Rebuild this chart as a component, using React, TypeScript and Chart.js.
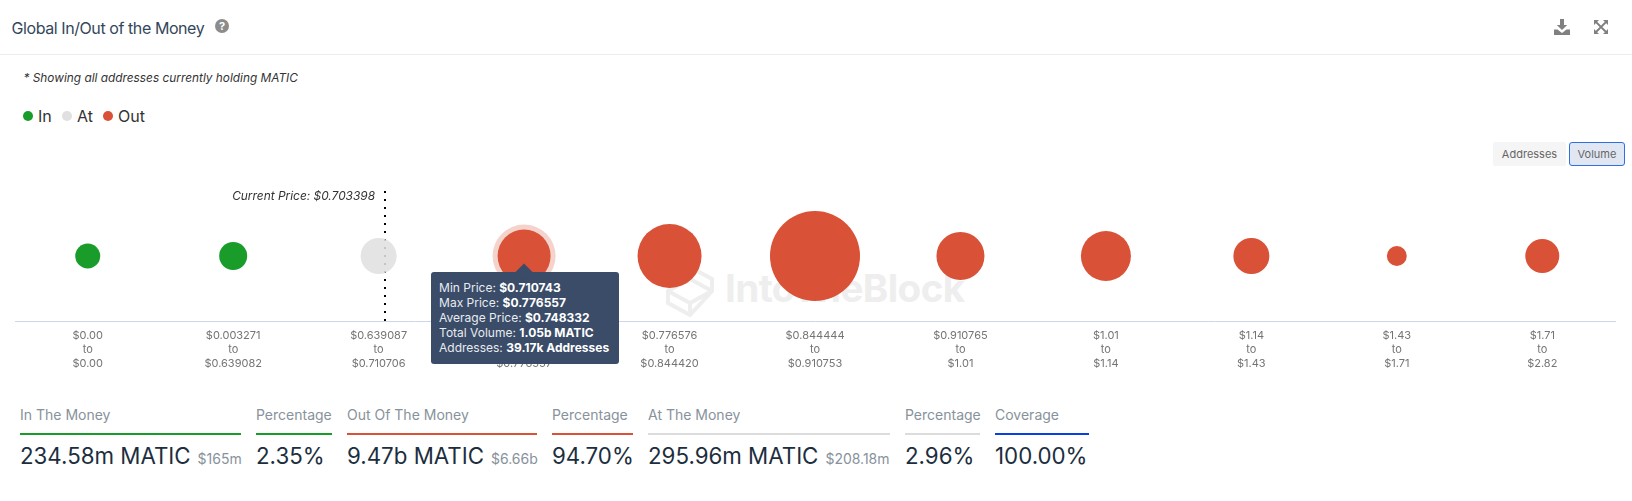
import React, { useEffect, useRef } from "react";
import { Chart, registerables } from "chart.js";

Chart.register(...registerables);

const priceFrom = ["$0.00", "$0.003271", "$0.639087", "$0.710743", "$0.776576", "$0.844444", "$0.910765", "$1.01", "$1.14", "$1.43", "$1.71"];
const priceTo = ["$0.00", "$0.639082", "$0.710706", "$0.776557", "$0.844420", "$0.910753", "$1.01", "$1.14", "$1.43", "$1.71", "$2.82"];
// volumes in millions of MATIC
const inIndex = [0, 1];
const inVolume = [54, 101];
const atIndex = [2];
const atVolume = [295.96];
const outIndex = [3, 4, 5, 6, 7, 8, 9, 10];
const outVolume = [1050, 1785, 4291, 781, 884, 296, 8, 238];
const currentPriceLabel = "Current Price: $0.703398";
const currentPricePosition = 2.047;

const GREEN = "#1a9c2a";
const RED = "#d95137";
const GREY = "rgba(224,224,224,0.88)";
const FONT = "Inter, 'Noto Sans', sans-serif";

const radiusOf = (v: number) => 8.38 + 0.559 * Math.sqrt(v);
const points = (idx: number[], vol: number[]) => idx.map((x, i) => ({ x, y: 0, r: radiusOf(vol[i]) }));

const currentPricePlugin = {
  id: "currentPrice",
  beforeDatasetsDraw(chart: any) {
    const { ctx, chartArea, scales } = chart;
    const x = Math.round(scales.x.getPixelForValue(currentPricePosition));
    ctx.save();
    ctx.strokeStyle = "#000";
    ctx.lineWidth = 2;
    ctx.setLineDash([2, 6]);
    ctx.beginPath();
    ctx.moveTo(x, chartArea.top);
    ctx.lineTo(x, chartArea.bottom);
    ctx.stroke();
    ctx.setLineDash([]);
    ctx.font = `italic 11.9px ${FONT}`;
    ctx.fillStyle = "#333";
    ctx.textAlign = "right";
    ctx.textBaseline = "middle";
    ctx.fillText(currentPriceLabel, x - 10, chartArea.top + 5);
    ctx.restore();
    const el = chart.getDatasetMeta(2).data[0];
    ctx.save();
    ctx.fillStyle = "rgba(217,81,55,0.25)";
    ctx.beginPath();
    ctx.arc(el.x, el.y, el.options.radius + 5, 0, Math.PI * 2);
    ctx.fill();
    ctx.restore();
  },
};

const stats = [
  { label: "In The Money", value: "234.58m MATIC", sub: "$165m", x: 20, w: 221, color: GREEN },
  { label: "Percentage", value: "2.35%", sub: "", x: 256, w: 76, color: GREEN },
  { label: "Out Of The Money", value: "9.47b MATIC", sub: "$6.66b", x: 347, w: 190, color: RED },
  { label: "Percentage", value: "94.70%", sub: "", x: 552, w: 81, color: RED },
  { label: "At The Money", value: "295.96m MATIC", sub: "$208.18m", x: 648, w: 242, color: "#dcdcdc" },
  { label: "Percentage", value: "2.96%", sub: "", x: 905, w: 75, color: "#dcdcdc" },
  { label: "Coverage", value: "100.00%", sub: "", x: 995, w: 94, color: "#0b3fe6" },
];

const tipLines = [
  ["Min Price: ", "$0.710743"],
  ["Max Price: ", "$0.776557"],
  ["Average Price: ", "$0.748332"],
  ["Total Volume: ", "1.05b MATIC"],
  ["Addresses: ", "39.17k Addresses"],
];

const abs = (o: React.CSSProperties): React.CSSProperties => ({ position: "absolute", whiteSpace: "nowrap", ...o });

export default function App() {
  const ref = useRef<HTMLCanvasElement>(null);
  const tipRef = useRef<HTMLDivElement>(null);

  useEffect(() => {
    const chart = new Chart(ref.current!, {
      type: "bubble",
      data: {
        datasets: [
          { label: "In", data: points(inIndex, inVolume), backgroundColor: GREEN, borderWidth: 0 },
          { label: "At", data: points(atIndex, atVolume), backgroundColor: GREY, borderWidth: 0 },
          { label: "Out", data: points(outIndex, outVolume), backgroundColor: RED, borderWidth: 0 },
        ],
      },
      options: {
        animation: false,
        responsive: false,
        events: [],
        layout: { autoPadding: false, padding: { left: 15, right: 17, top: 10, bottom: 0 } },
        plugins: { legend: { display: false }, tooltip: { enabled: false } },
        scales: {
          x: {
            type: "linear",
            min: -0.5,
            max: 10.5,
            afterBuildTicks: (s: any) => {
              s.ticks = priceFrom.map((_, i) => ({ value: i }));
            },
            afterFit: (s: any) => {
              s.height = 59;
            },
            grid: { display: false, drawTicks: false },
            border: { display: true, color: "#ccd6e6", width: 1 },
            ticks: {
              autoSkip: false,
              maxRotation: 0,
              padding: 8,
              color: "#747474",
              font: { family: FONT, size: 11, lineHeight: 14 / 11 },
              callback: (v: any) => [priceFrom[v], "to", priceTo[v]],
            },
          },
          y: { display: false, min: -1, max: 1 },
        },
      },
      plugins: [currentPricePlugin],
    } as any);
    const el: any = chart.getDatasetMeta(2).data[0];
    if (tipRef.current) tipRef.current.style.left = `${el.x - 93}px`;
    return () => chart.destroy();
  }, []);

  return (
    <div style={{ position: "absolute", left: 0, top: 0, width: 1632, height: 501, overflow: "hidden", background: "#fff", fontFamily: FONT }}>
      <div style={abs({ left: 11.5, top: 18, fontSize: 16, lineHeight: "20px", color: "#33475b", letterSpacing: -0.42 })}>Global In/Out of the Money</div>
      <svg style={abs({ left: 215, top: 19 })} width="14" height="14" viewBox="0 0 14 14">
        <circle cx="7" cy="7" r="7" fill="#8c8c8c" />
        <text x="7" y="11" textAnchor="middle" fontSize="11" fontWeight="700" fill="#fff" fontFamily={FONT}>?</text>
      </svg>
      <svg style={abs({ left: 1554, top: 19 })} width="16" height="16" viewBox="0 0 16 16" fill="#808080">
        <path d="M6 0h4v6h3.2L8 11 2.8 6H6z" />
        <path d="M0 10.5h3.5L8 14l4.5-3.5H16V16H0z" />
      </svg>
      <svg style={abs({ left: 1594, top: 20 })} width="14" height="14" viewBox="0 0 14 14" fill="#808080" stroke="#808080">
        <path d="M0 0h5L0 5zM14 0v5L9 0zM0 14V9l5 5zM14 14H9l5-5z" strokeWidth="0" />
        <path d="M2 2l10 10M12 2L2 12" strokeWidth="1.8" />
      </svg>
      <div style={abs({ left: 0, top: 54, width: 1632, height: 1, background: "#ececec" })} />
      <div style={abs({ left: 23.5, top: 70, fontSize: 11.85, lineHeight: "16px", fontStyle: "italic", color: "#333" })}>* Showing all addresses currently holding MATIC</div>

      {[
        { t: "In", c: GREEN, dot: 28, x: 38 },
        { t: "At", c: "#e0e0e0", dot: 67, x: 77 },
        { t: "Out", c: RED, dot: 108, x: 118 },
      ].map((l) => (
        <React.Fragment key={l.t}>
          <div style={abs({ left: l.dot - 5, top: 111, width: 10, height: 10, borderRadius: 5, background: l.c })} />
          <div style={abs({ left: l.x, top: 106, fontSize: 16, lineHeight: "20px", color: "#333" })}>{l.t}</div>
        </React.Fragment>
      ))}

      <div style={abs({ left: 1493, top: 142, width: 73, height: 24, background: "#f5f5f5", borderRadius: 2, fontSize: 11, lineHeight: "24px", textAlign: "center", color: "#666" })}>Addresses</div>
      <div style={abs({ left: 1569, top: 142, width: 56, height: 24, boxSizing: "border-box", background: "#e1e6f3", border: "1px solid #2f6fe4", borderRadius: 3, fontSize: 11, lineHeight: "22px", textAlign: "center", color: "#666" })}>Volume</div>

      <svg style={abs({ left: 665, top: 265 })} width="50" height="52" viewBox="0 0 50 52" fill="none" stroke="#eeeeee" strokeWidth="4">
        <path d="M25 2L47 14V26L25 50L3 38V26L25 2Z" />
        <path d="M3 26L25 38L47 26M25 14L3 26M25 14L47 26M25 38V50M25 2V14" />
      </svg>
      <div style={abs({ left: 725, top: 264, fontSize: 38.6, lineHeight: "48px", fontWeight: 700, color: "#eeeeee", letterSpacing: -0.6 })}>IntoTheBlock</div>

      <canvas ref={ref} width={1632} height={199} style={{ position: "absolute", left: 0, top: 181, width: 1632, height: 199 }} />

      <div ref={tipRef} style={abs({ left: 431, top: 272, width: 188, height: 92, background: "#3a4c67", borderRadius: 3, boxSizing: "border-box", padding: "8px 8px", fontSize: 12, lineHeight: "15px", color: "#fff" })}>
        <div style={abs({ left: 87, top: -6, width: 12, height: 12, background: "#3a4c67", transform: "rotate(45deg)" })} />
        {tipLines.map(([a, b]) => (
          <div key={a} style={{ position: "relative" }}>
            <span style={{ color: "#e8ebf0" }}>{a}</span>
            <b>{b}</b>
          </div>
        ))}
      </div>

      {stats.map((s, i) => (
        <React.Fragment key={i}>
          <div style={abs({ left: s.x, top: 406, fontSize: 14, lineHeight: "18px", color: "#87929b" })}>{s.label}</div>
          <div style={abs({ left: s.x, top: 433, width: s.w, height: 2, background: s.color })} />
          <div style={abs({ left: s.x, top: 439.5, fontSize: 22.3, lineHeight: "32px", color: "#1c2e3e" })}>
            {s.value}
            {s.sub ? <span style={{ fontSize: 14, color: "#87929b", marginLeft: 7 }}>{s.sub}</span> : null}
          </div>
        </React.Fragment>
      ))}
    </div>
  );
}
